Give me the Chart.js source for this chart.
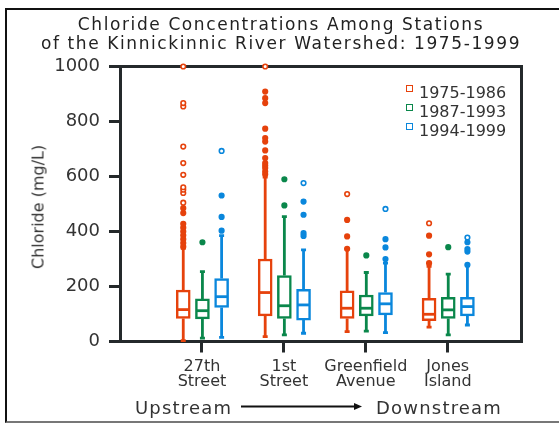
<!DOCTYPE html>
<html>
<head>
<meta charset="utf-8">
<script src="https://cdn.jsdelivr.net/npm/chart.js@4"></script>
<style>
  body { margin: 0; background: #fff; }
  #wrap { position: relative; width: 559px; height: 424px; overflow: hidden; font-family: "DejaVu Sans", sans-serif; color: #333; }
  #frame { position: absolute; left: 5px; top: 7.5px; width: 620px; height: 411px; border-left: 2px solid #111; border-top: 2px solid #111; border-bottom: 2px solid #777; }
  canvas { position: absolute; left: 0; top: 0; }
  #title { position: absolute; left: 0; top: 15px; width: 562px; text-align: center; font-size: 17px; line-height: 19.3px; letter-spacing: 1.6px; color: #222; }
  #ytitle { position: absolute; left: 38px; top: 207px; transform: translate(-50%, -50%) rotate(-90deg); font-size: 16px; white-space: nowrap; }
  #legend { position: absolute; left: 406px; top: 83px; font-size: 16px; line-height: 19.2px; }
  #legend div { position: relative; padding-left: 13px; }
  #legend span { position: absolute; left: 0; top: 2px; width: 5px; height: 5px; border: 1.5px solid; background: #fff; }
  .dir { position: absolute; top: 398px; font-size: 18px; line-height: 20px; letter-spacing: 1.2px; }
</style>
</head>
<body>
<div id="wrap">
  <div id="frame"></div>
  <canvas id="chart" width="559" height="424"></canvas>
  <div id="title">Chloride Concentrations Among Stations<br>of the Kinnickinnic River Watershed: 1975-1999</div>
  <div id="ytitle">Chloride (mg/L)</div>
  <div id="legend"></div>
  <div class="dir" style="left:135px">Upstream</div>
  <svg style="position:absolute;left:0;top:0" width="559" height="424">
    <line x1="241" y1="406.5" x2="355" y2="406.5" stroke="#111" stroke-width="2"/>
    <polygon points="354,403 362,406.5 354,410" fill="#111"/>
  </svg>
  <div class="dir" style="left:376px">Downstream</div>
</div>
<script>
const stations = [["27th", "Street"], ["1st", "Street"], ["Greenfield", "Avenue"], ["Jones", "Island"]];
const periods = ["1975-1986", "1987-1993", "1994-1999"];

// one row per period, one value per station (mg/L)
const whiskerLow = [
  [3, 18, 36, 52],
  [12, 24, 38, 24],
  [15, 30, 32, 60]
];
const q1 = [
  [84, 93, 84, 76],
  [82, 84, 93, 84],
  [124, 78, 97, 93]
];
const median = [
  [116, 178, 121, 99],
  [112, 130, 121, 115],
  [163, 133, 137, 127]
];
const q3 = [
  [187, 300, 184, 157],
  [155, 240, 169, 161],
  [229, 190, 178, 161]
];
const whiskerHigh = [
  [339, 598, 336, 273],
  [254, 454, 251, 245],
  [385, 333, 285, 275]
];
const outliers = [
  [
    [345, 358, 372, 386, 400, 414, 428, 467, 485, 505, 540, 552, 561, 606, 649, 709, 855, 867, 1000],
    [608, 618, 631, 640, 649, 667, 695, 727, 740, 774, 867, 885, 909, 1000],
    [337, 382, 442, 536],
    [285, 317, 385, 430]
  ],
  [
    [361],
    [495, 590],
    [313],
    [343]
  ],
  [
    [403, 453, 531, 693],
    [384, 394, 461, 509, 576],
    [300, 342, 372, 482],
    [279, 327, 336, 361, 378]
  ]
];

const colors = ["#e6420c", "#0a874b", "#0a87dc"];
const offsets = [-0.228, 0.006, 0.24];
const axisColor = "#24292b";

// legend
const legend = document.getElementById("legend");
periods.forEach((p, i) => {
  legend.innerHTML += `<div><span style="border-color:${colors[i]}"></span>${p}</div>`;
});

const boxSets = periods.map((p, i) => ({
  type: "bar",
  label: p,
  data: stations.map((s, j) => ({ x: j + 1 + offsets[i], y: [q1[i][j], q3[i][j]] })),
  backgroundColor: "#fff",
  borderColor: colors[i],
  borderWidth: 2.5,
  borderSkipped: false,
  barThickness: 14,
  grouped: false,
  order: 2
}));

const outlierSets = periods.map((p, i) => {
  const pts = [];
  stations.forEach((s, j) => {
    const farLimit = q3[i][j] + 3 * (q3[i][j] - q1[i][j]);
    outliers[i][j].forEach(v => pts.push({ x: j + 1 + offsets[i], y: v, far: v > farLimit }));
  });
  return {
    type: "scatter",
    label: p + " outliers",
    data: pts,
    pointRadius: 2.3,
    pointBorderWidth: 1.6,
    borderColor: colors[i],
    pointBackgroundColor: c => (c.raw && c.raw.far ? "#fff" : colors[i]),
    clip: false,
    order: 1
  };
});

function barsOf(chart) {
  return chart.data.datasets
    .map((d, i) => ({ d, i }))
    .filter(o => o.d.type === "bar");
}

const boxPlugin = {
  id: "boxes",
  beforeDatasetsDraw(chart) {
    const { ctx, chartArea: a, scales: { y } } = chart;
    ctx.save();
    // top and right edges of the plot frame
    ctx.strokeStyle = axisColor;
    ctx.lineWidth = 3;
    ctx.beginPath();
    ctx.moveTo(a.left - 1.5, a.top);
    ctx.lineTo(a.right, a.top);
    ctx.lineTo(a.right, a.bottom + 1.5);
    ctx.stroke();
    // whiskers
    barsOf(chart).forEach(({ i }, k) => {
      const meta = chart.getDatasetMeta(i);
      ctx.strokeStyle = colors[k];
      ctx.lineWidth = 2.8;
      meta.data.forEach((el, j) => {
        const x = el.x;
        const hi = y.getPixelForValue(whiskerHigh[k][j]);
        const lo = y.getPixelForValue(whiskerLow[k][j]);
        ctx.beginPath();
        ctx.moveTo(x, y.getPixelForValue(q3[k][j]));
        ctx.lineTo(x, hi);
        ctx.moveTo(x, y.getPixelForValue(q1[k][j]));
        ctx.lineTo(x, lo);
        ctx.moveTo(x - 2.5, hi);
        ctx.lineTo(x + 2.5, hi);
        ctx.moveTo(x - 2.5, lo);
        ctx.lineTo(x + 2.5, lo);
        ctx.stroke();
      });
    });
    ctx.restore();
  },
  afterDatasetsDraw(chart) {
    const { ctx, scales: { y } } = chart;
    ctx.save();
    barsOf(chart).forEach(({ i }, k) => {
      const meta = chart.getDatasetMeta(i);
      ctx.strokeStyle = colors[k];
      ctx.lineWidth = 2.8;
      meta.data.forEach((el, j) => {
        const m = y.getPixelForValue(median[k][j]);
        ctx.beginPath();
        ctx.moveTo(el.x - el.width / 2 + 1, m);
        ctx.lineTo(el.x + el.width / 2 - 1, m);
        ctx.stroke();
      });
    });
    ctx.restore();
  }
};

const gridOpts = {
  display: true,
  offset: false,
  drawOnChartArea: false,
  drawTicks: true,
  tickLength: 11,
  tickWidth: 3,
  tickColor: axisColor
};

new Chart(document.getElementById("chart"), {
  type: "bar",
  data: { datasets: [...boxSets, ...outlierSets] },
  options: {
    responsive: false,
    animation: false,
    layout: { padding: { top: 66.5, right: 37.5, bottom: 22.5, left: 0 } },
    plugins: { legend: { display: false }, tooltip: { enabled: false } },
    scales: {
      x: {
        type: "linear",
        offset: false,
        min: 0,
        max: 4.9,
        afterBuildTicks: s => { s.ticks = stations.map((st, j) => ({ value: j + 1 })); },
        afterFit: s => { s.height = 60; },
        ticks: {
          autoSkip: false,
          maxRotation: 0,
          padding: 7,
          color: "#333",
          font: { family: "DejaVu Sans", size: 16, lineHeight: "15px" },
          callback: (v, i) => stations[i]
        },
        grid: gridOpts,
        border: { display: true, width: 3, color: axisColor }
      },
      y: {
        min: 0,
        max: 1000,
        afterFit: s => { s.width = 120; },
        ticks: {
          stepSize: 200,
          padding: 9,
          color: "#333",
          font: { family: "DejaVu Sans", size: 18 },
          callback: v => String(v)
        },
        grid: gridOpts,
        border: { display: true, width: 3, color: axisColor }
      }
    }
  },
  plugins: [boxPlugin]
});
</script>
</body>
</html>
